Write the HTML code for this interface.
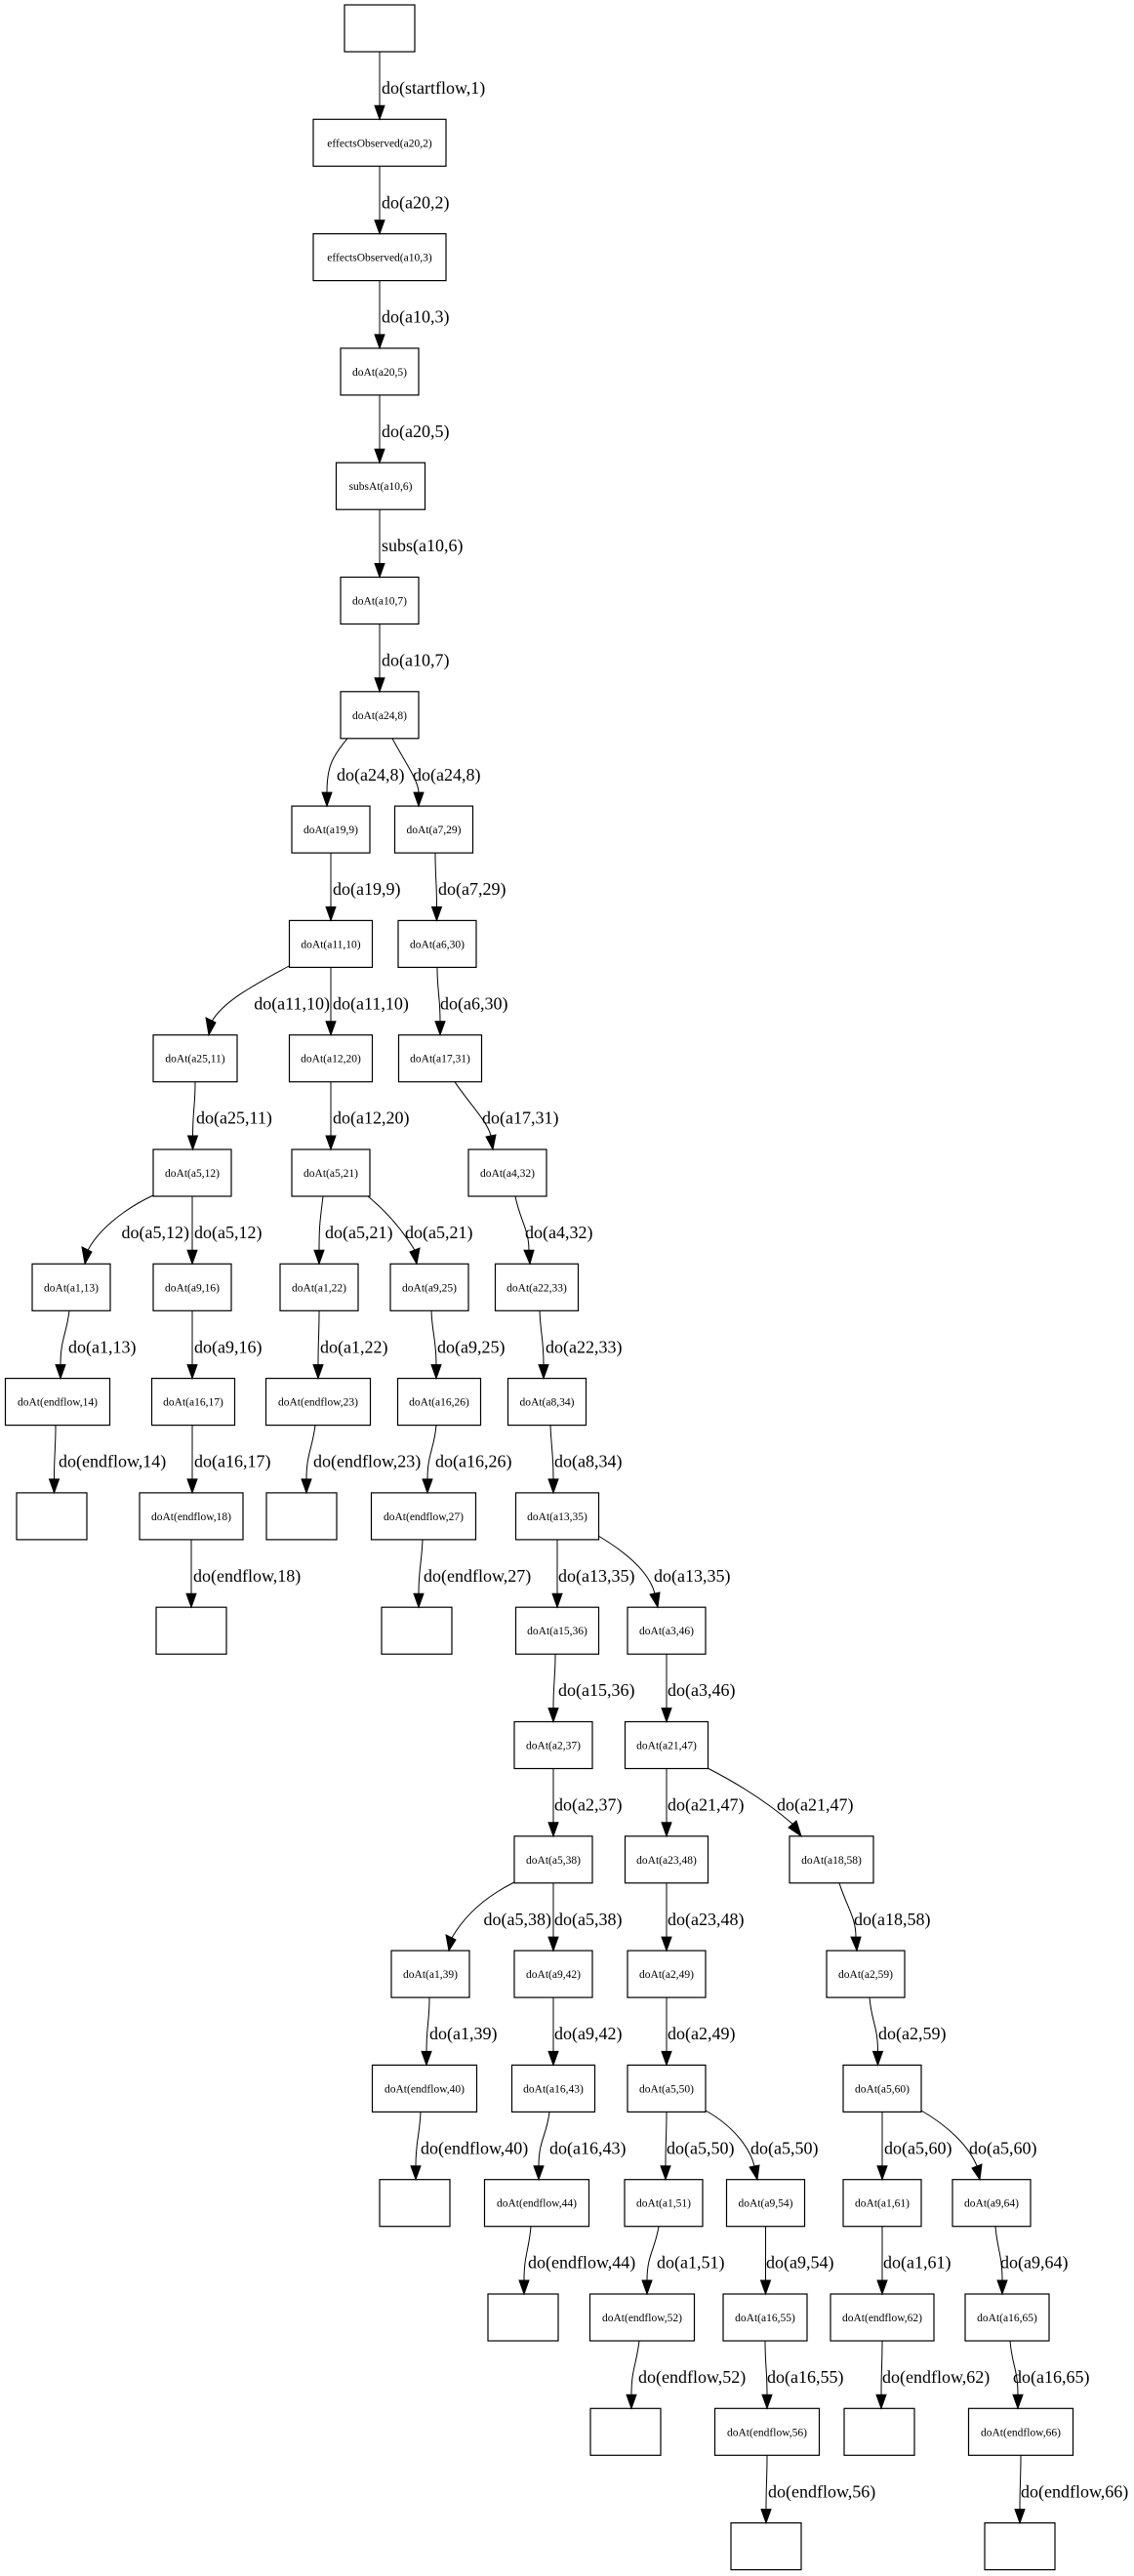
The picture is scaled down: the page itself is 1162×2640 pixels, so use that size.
<!DOCTYPE html>
<html><head><meta charset="utf-8"><style>
html,body{margin:0;padding:0;background:#fff;}
svg{display:block;}
.n rect{fill:none;stroke:#000;stroke-width:1.2;}
.n text{font-family:"Liberation Serif",serif;font-size:11.5px;text-anchor:middle;fill:#000;}
.e path{fill:none;stroke:#000;stroke-width:1;}
.e polygon{fill:#000;stroke:#000;}
.l{font-family:"Liberation Serif",serif;font-size:18px;fill:#000;}
</style></head><body>
<svg width="1162" height="2640" viewBox="0 0 1162 2640" xmlns="http://www.w3.org/2000/svg">
<g class="n">
<rect x="353" y="5" width="72" height="48"/>
<rect x="321" y="122.3" width="136" height="48"/><text x="389" y="150.3">effectsObserved(a20,2)</text>
<rect x="321" y="239.6" width="136" height="48"/><text x="389" y="267.6">effectsObserved(a10,3)</text>
<rect x="349" y="356.9" width="80" height="48"/><text x="389" y="384.9">doAt(a20,5)</text>
<rect x="344.5" y="474.2" width="91" height="48"/><text x="390" y="502.2">subsAt(a10,6)</text>
<rect x="349" y="591.5" width="80" height="48"/><text x="389" y="619.5">doAt(a10,7)</text>
<rect x="349" y="708.8" width="80" height="48"/><text x="389" y="736.8">doAt(a24,8)</text>
<rect x="299" y="826.1" width="80" height="48"/><text x="339" y="854.1">doAt(a19,9)</text>
<rect x="404.5" y="826.1" width="80" height="48"/><text x="444.5" y="854.1">doAt(a7,29)</text>
<rect x="296.5" y="943.4" width="85" height="48"/><text x="339" y="971.4">doAt(a11,10)</text>
<rect x="408" y="943.4" width="80" height="48"/><text x="448" y="971.4">doAt(a6,30)</text>
<rect x="157" y="1060.7" width="86" height="48"/><text x="200" y="1088.7">doAt(a25,11)</text>
<rect x="296.5" y="1060.7" width="85" height="48"/><text x="339" y="1088.7">doAt(a12,20)</text>
<rect x="408.5" y="1060.7" width="85" height="48"/><text x="451" y="1088.7">doAt(a17,31)</text>
<rect x="157" y="1178" width="80" height="48"/><text x="197" y="1206">doAt(a5,12)</text>
<rect x="299" y="1178" width="80" height="48"/><text x="339" y="1206">doAt(a5,21)</text>
<rect x="480" y="1178" width="80" height="48"/><text x="520" y="1206">doAt(a4,32)</text>
<rect x="33" y="1295.3" width="80" height="48"/><text x="73" y="1323.3">doAt(a1,13)</text>
<rect x="157" y="1295.3" width="80" height="48"/><text x="197" y="1323.3">doAt(a9,16)</text>
<rect x="287" y="1295.3" width="80" height="48"/><text x="327" y="1323.3">doAt(a1,22)</text>
<rect x="400" y="1295.3" width="80" height="48"/><text x="440" y="1323.3">doAt(a9,25)</text>
<rect x="507.5" y="1295.3" width="85" height="48"/><text x="550" y="1323.3">doAt(a22,33)</text>
<rect x="5.5" y="1412.6" width="107" height="48"/><text x="59" y="1440.6">doAt(endflow,14)</text>
<rect x="155.5" y="1412.6" width="85" height="48"/><text x="198" y="1440.6">doAt(a16,17)</text>
<rect x="272.5" y="1412.6" width="107" height="48"/><text x="326" y="1440.6">doAt(endflow,23)</text>
<rect x="407.5" y="1412.6" width="85" height="48"/><text x="450" y="1440.6">doAt(a16,26)</text>
<rect x="520.5" y="1412.6" width="80" height="48"/><text x="560.5" y="1440.6">doAt(a8,34)</text>
<rect x="17" y="1529.9" width="72" height="48"/>
<rect x="143" y="1529.9" width="106" height="48"/><text x="196" y="1557.9">doAt(endflow,18)</text>
<rect x="273" y="1529.9" width="72" height="48"/>
<rect x="380.5" y="1529.9" width="107" height="48"/><text x="434" y="1557.9">doAt(endflow,27)</text>
<rect x="528.5" y="1529.9" width="85" height="48"/><text x="571" y="1557.9">doAt(a13,35)</text>
<rect x="160" y="1647.2" width="72" height="48"/>
<rect x="391" y="1647.2" width="72" height="48"/>
<rect x="528.5" y="1647.2" width="85" height="48"/><text x="571" y="1675.2">doAt(a15,36)</text>
<rect x="643" y="1647.2" width="80" height="48"/><text x="683" y="1675.2">doAt(a3,46)</text>
<rect x="527" y="1764.5" width="80" height="48"/><text x="567" y="1792.5">doAt(a2,37)</text>
<rect x="640.5" y="1764.5" width="85" height="48"/><text x="683" y="1792.5">doAt(a21,47)</text>
<rect x="527" y="1881.8" width="80" height="48"/><text x="567" y="1909.8">doAt(a5,38)</text>
<rect x="640.5" y="1881.8" width="85" height="48"/><text x="683" y="1909.8">doAt(a23,48)</text>
<rect x="809" y="1881.8" width="86" height="48"/><text x="852" y="1909.8">doAt(a18,58)</text>
<rect x="401" y="1999.1" width="80" height="48"/><text x="441" y="2027.1">doAt(a1,39)</text>
<rect x="527" y="1999.1" width="80" height="48"/><text x="567" y="2027.1">doAt(a9,42)</text>
<rect x="643" y="1999.1" width="80" height="48"/><text x="683" y="2027.1">doAt(a2,49)</text>
<rect x="847" y="1999.1" width="80" height="48"/><text x="887" y="2027.1">doAt(a2,59)</text>
<rect x="381.5" y="2116.4" width="107" height="48"/><text x="435" y="2144.4">doAt(endflow,40)</text>
<rect x="524.5" y="2116.4" width="85" height="48"/><text x="567" y="2144.4">doAt(a16,43)</text>
<rect x="643" y="2116.4" width="80" height="48"/><text x="683" y="2144.4">doAt(a5,50)</text>
<rect x="864" y="2116.4" width="80" height="48"/><text x="904" y="2144.4">doAt(a5,60)</text>
<rect x="389" y="2233.7" width="72" height="48"/>
<rect x="496.5" y="2233.7" width="107" height="48"/><text x="550" y="2261.7">doAt(endflow,44)</text>
<rect x="640" y="2233.7" width="80" height="48"/><text x="680" y="2261.7">doAt(a1,51)</text>
<rect x="744.5" y="2233.7" width="80" height="48"/><text x="784.5" y="2261.7">doAt(a9,54)</text>
<rect x="864" y="2233.7" width="80" height="48"/><text x="904" y="2261.7">doAt(a1,61)</text>
<rect x="976" y="2233.7" width="80" height="48"/><text x="1016" y="2261.7">doAt(a9,64)</text>
<rect x="500" y="2351" width="72" height="48"/>
<rect x="604.5" y="2351" width="107" height="48"/><text x="658" y="2379">doAt(endflow,52)</text>
<rect x="741" y="2351" width="86" height="48"/><text x="784" y="2379">doAt(a16,55)</text>
<rect x="851" y="2351" width="106" height="48"/><text x="904" y="2379">doAt(endflow,62)</text>
<rect x="989" y="2351" width="86" height="48"/><text x="1032" y="2379">doAt(a16,65)</text>
<rect x="605" y="2468.3" width="72" height="48"/>
<rect x="732.5" y="2468.3" width="107" height="48"/><text x="786" y="2496.3">doAt(endflow,56)</text>
<rect x="865" y="2468.3" width="72" height="48"/>
<rect x="992.5" y="2468.3" width="107" height="48"/><text x="1046" y="2496.3">doAt(endflow,66)</text>
<rect x="749" y="2585.6" width="72" height="48"/>
<rect x="1009" y="2585.6" width="72" height="48"/>
</g>
<g class="e">
<path d="M389,53 C389,78 389,82.3 389,108.3"/><polygon points="384,108.3 394,108.3 389,122.3"/>
<path d="M389,170.3 C389,195 389,199.6 389,225.6"/><polygon points="384,225.6 394,225.6 389,239.6"/>
<path d="M389,287.6 C389,312 389,316.9 389,342.9"/><polygon points="384,342.9 394,342.9 389,356.9"/>
<path d="M389,404.9 C389,430 389,434.2 389,460.2"/><polygon points="384,460.2 394,460.2 389,474.2"/>
<path d="M389,522.2 C389,547 389,551.5 389,577.5"/><polygon points="384,577.5 394,577.5 389,591.5"/>
<path d="M389,639.5 C389,664 389,668.8 389,694.8"/><polygon points="384,694.8 394,694.8 389,708.8"/>
<path d="M356,756.8 C340,776 335,786.1 335,812.1"/><polygon points="330,812.1 340,812.1 335,826.1"/>
<path d="M402,756.8 C412,776 429,800 429,812.1"/><polygon points="424,812.1 434,812.1 429,826.1"/>
<path d="M339,874.1 C339,899 339,903.4 339,929.4"/><polygon points="334,929.4 344,929.4 339,943.4"/>
<path d="M446,874.1 C446,899 447.5,903.4 447.5,929.4"/><polygon points="442.5,929.4 452.5,929.4 447.5,943.4"/>
<path d="M297,989.5 C260,1010 230,1025 217,1046.7"/><polygon points="211,1043 221,1048 214,1060.7"/>
<path d="M339,991.4 C339,1016 339,1020.7 339,1046.7"/><polygon points="334,1046.7 344,1046.7 339,1060.7"/>
<path d="M448,991.4 C448,1016 451,1020.7 451,1046.7"/><polygon points="446,1046.7 456,1046.7 451,1060.7"/>
<path d="M200,1108.7 C200,1134 197.5,1138 197.5,1164"/><polygon points="192.5,1164 202.5,1164 197.5,1178"/>
<path d="M339,1108.7 C339,1134 339,1138 339,1164"/><polygon points="334,1164 344,1164 339,1178"/>
<path d="M466,1108.7 C480,1130 500,1150 503,1164"/><polygon points="498,1165 508,1163 505,1178"/>
<path d="M157,1225 C125,1240 100,1262 90,1281.3"/><polygon points="84,1278 94,1283 87,1295.3"/>
<path d="M197,1226 C197,1251 197,1255.3 197,1281.3"/><polygon points="192,1281.3 202,1281.3 197,1295.3"/>
<path d="M331,1226 C328,1251 327,1255.3 327,1281.3"/><polygon points="322,1281.3 332,1281.3 327,1295.3"/>
<path d="M377,1226 C400,1245 415,1265 425,1281.3"/><polygon points="420,1283 430,1279 427,1295.3"/>
<path d="M528,1226 C533,1251 542,1260 542,1281.3"/><polygon points="537,1281.3 547,1281.3 543,1295.3"/>
<path d="M71,1343.3 C68,1368 62,1372.6 62,1398.6"/><polygon points="57,1398.6 67,1398.6 62,1412.6"/>
<path d="M197,1343.3 C197,1368 197,1372.6 197,1398.6"/><polygon points="192,1398.6 202,1398.6 197,1412.6"/>
<path d="M327,1343.3 C327,1368 326,1372.6 326,1398.6"/><polygon points="321,1398.6 331,1398.6 326,1412.6"/>
<path d="M442,1343.3 C443,1368 447,1372.6 447,1398.6"/><polygon points="442,1398.6 452,1398.6 447,1412.6"/>
<path d="M553,1343.3 C554,1368 557,1372.6 557,1398.6"/><polygon points="552,1398.6 562,1398.6 557,1412.6"/>
<path d="M57,1460.6 C57,1485 55.5,1489.9 55.5,1515.9"/><polygon points="50.5,1515.9 60.5,1515.9 55.5,1529.9"/>
<path d="M197,1460.6 C197,1485 197,1489.9 197,1515.9"/><polygon points="192,1515.9 202,1515.9 197,1529.9"/>
<path d="M323,1460.6 C320,1485 314,1489.9 314,1515.9"/><polygon points="309,1515.9 319,1515.9 314,1529.9"/>
<path d="M447,1460.6 C445,1485 438,1489.9 438,1515.9"/><polygon points="433,1515.9 443,1515.9 438,1529.9"/>
<path d="M564,1460.6 C565,1485 567,1489.9 567,1515.9"/><polygon points="562,1515.9 572,1515.9 567,1529.9"/>
<path d="M196,1577.9 C196,1603 196,1607.2 196,1633.2"/><polygon points="191,1633.2 201,1633.2 196,1647.2"/>
<path d="M433,1577.9 C432,1603 429,1607.2 429,1633.2"/><polygon points="424,1633.2 434,1633.2 429,1647.2"/>
<path d="M571,1577.9 C571,1603 571,1607.2 571,1633.2"/><polygon points="566,1633.2 576,1633.2 571,1647.2"/>
<path d="M613,1574 C640,1590 665,1610 671,1633.2"/><polygon points="666,1634 676,1632 674,1647.2"/>
<path d="M569,1695.2 C569,1720 567,1724.5 567,1750.5"/><polygon points="562,1750.5 572,1750.5 567,1764.5"/>
<path d="M683,1695.2 C683,1720 683,1724.5 683,1750.5"/><polygon points="678,1750.5 688,1750.5 683,1764.5"/>
<path d="M567,1812.5 C567,1837 567,1841.8 567,1867.8"/><polygon points="562,1867.8 572,1867.8 567,1881.8"/>
<path d="M683,1812.5 C683,1837 683,1841.8 683,1867.8"/><polygon points="678,1867.8 688,1867.8 683,1881.8"/>
<path d="M725,1812 C760,1830 790,1850 813,1870"/><polygon points="808,1873 816,1866 821,1881.8"/>
<path d="M527,1929 C495,1945 475,1965 463,1986"/><polygon points="457,1983 467,1988 460,1999.1"/>
<path d="M567,1929.8 C567,1955 567,1959.1 567,1985.1"/><polygon points="562,1985.1 572,1985.1 567,1999.1"/>
<path d="M683,1929.8 C683,1955 683,1959.1 683,1985.1"/><polygon points="678,1985.1 688,1985.1 683,1999.1"/>
<path d="M860,1929.8 C868,1955 877,1965 877,1985.1"/><polygon points="872,1985.1 882,1985.1 878,1999.1"/>
<path d="M440,2047.1 C440,2072 437,2076.4 437,2102.4"/><polygon points="432,2102.4 442,2102.4 437,2116.4"/>
<path d="M567,2047.1 C567,2072 567,2076.4 567,2102.4"/><polygon points="562,2102.4 572,2102.4 567,2116.4"/>
<path d="M683,2047.1 C683,2072 683,2076.4 683,2102.4"/><polygon points="678,2102.4 688,2102.4 683,2116.4"/>
<path d="M891,2047.1 C893,2072 899.5,2076.4 899.5,2102.4"/><polygon points="894.5,2102.4 904.5,2102.4 899.5,2116.4"/>
<path d="M431,2164.4 C430,2189 426,2193.7 426,2219.7"/><polygon points="421,2219.7 431,2219.7 426,2233.7"/>
<path d="M563,2164.4 C560,2189 552,2193.7 552,2219.7"/><polygon points="547,2219.7 557,2219.7 552,2233.7"/>
<path d="M683,2164.4 C683,2189 682,2193.7 682,2219.7"/><polygon points="677,2219.7 687,2219.7 682,2233.7"/>
<path d="M723,2163 C750,2178 768,2200 773,2219.7"/><polygon points="768,2221 778,2219 776,2233.7"/>
<path d="M904,2164.4 C904,2189 904,2193.7 904,2219.7"/><polygon points="899,2219.7 909,2219.7 904,2233.7"/>
<path d="M944,2163 C970,2178 992,2198 1001,2219.7"/><polygon points="996,2222 1006,2218 1004,2233.7"/>
<path d="M544,2281.7 C542,2306 537,2311 537,2337"/><polygon points="532,2337 542,2337 537,2351"/>
<path d="M675,2281.7 C671,2306 663,2311 663,2337"/><polygon points="658,2337 668,2337 663,2351"/>
<path d="M784.5,2281.7 C784.5,2306 784.5,2311 784.5,2337"/><polygon points="779.5,2337 789.5,2337 784.5,2351"/>
<path d="M904,2281.7 C904,2306 904,2311 904,2337"/><polygon points="899,2337 909,2337 904,2351"/>
<path d="M1020,2281.7 C1022,2306 1027,2311 1027,2337"/><polygon points="1022,2337 1032,2337 1027,2351"/>
<path d="M655,2399 C652,2424 647,2428.3 647,2454.3"/><polygon points="642,2454.3 652,2454.3 647,2468.3"/>
<path d="M784,2399 C784,2424 786,2428.3 786,2454.3"/><polygon points="781,2454.3 791,2454.3 786,2468.3"/>
<path d="M904,2399 C904,2424 903,2428.3 903,2454.3"/><polygon points="898,2454.3 908,2454.3 903,2468.3"/>
<path d="M1035,2399 C1037,2424 1043,2428.3 1043,2454.3"/><polygon points="1038,2454.3 1048,2454.3 1043,2468.3"/>
<path d="M786,2516.3 C786,2541 785,2545.6 785,2571.6"/><polygon points="780,2571.6 790,2571.6 785,2585.6"/>
<path d="M1046,2516.3 C1046,2541 1045,2545.6 1045,2571.6"/><polygon points="1040,2571.6 1050,2571.6 1045,2585.6"/>
</g>
<g class="l">
<text x="391" y="96">do(startflow,1)</text>
<text x="391" y="213.3">do(a20,2)</text>
<text x="391" y="330.6">do(a10,3)</text>
<text x="391" y="447.9">do(a20,5)</text>
<text x="391" y="565.2">subs(a10,6)</text>
<text x="391" y="682.5">do(a10,7)</text>
<text x="345" y="799.8">do(a24,8)</text>
<text x="423" y="799.8">do(a24,8)</text>
<text x="341" y="917.1">do(a19,9)</text>
<text x="449" y="917.1">do(a7,29)</text>
<text x="338" y="1034.4" text-anchor="end">do(a11,10)</text>
<text x="341" y="1034.4">do(a11,10)</text>
<text x="451" y="1034.4">do(a6,30)</text>
<text x="201" y="1151.7">do(a25,11)</text>
<text x="341" y="1151.7">do(a12,20)</text>
<text x="494" y="1151.7">do(a17,31)</text>
<text x="194" y="1269" text-anchor="end">do(a5,12)</text>
<text x="199" y="1269">do(a5,12)</text>
<text x="333" y="1269">do(a5,21)</text>
<text x="415" y="1269">do(a5,21)</text>
<text x="538" y="1269">do(a4,32)</text>
<text x="70" y="1386.3">do(a1,13)</text>
<text x="199" y="1386.3">do(a9,16)</text>
<text x="328" y="1386.3">do(a1,22)</text>
<text x="448" y="1386.3">do(a9,25)</text>
<text x="559" y="1386.3">do(a22,33)</text>
<text x="60" y="1503.6">do(endflow,14)</text>
<text x="199" y="1503.6">do(a16,17)</text>
<text x="321" y="1503.6">do(endflow,23)</text>
<text x="446" y="1503.6">do(a16,26)</text>
<text x="568" y="1503.6">do(a8,34)</text>
<text x="198" y="1620.9">do(endflow,18)</text>
<text x="434" y="1620.9">do(endflow,27)</text>
<text x="572" y="1620.9">do(a13,35)</text>
<text x="670" y="1620.9">do(a13,35)</text>
<text x="572" y="1738.2">do(a15,36)</text>
<text x="684" y="1738.2">do(a3,46)</text>
<text x="568" y="1855.5">do(a2,37)</text>
<text x="684" y="1855.5">do(a21,47)</text>
<text x="796" y="1855.5">do(a21,47)</text>
<text x="565" y="1972.8" text-anchor="end">do(a5,38)</text>
<text x="568" y="1972.8">do(a5,38)</text>
<text x="684" y="1972.8">do(a23,48)</text>
<text x="875" y="1972.8">do(a18,58)</text>
<text x="440" y="2090.1">do(a1,39)</text>
<text x="568" y="2090.1">do(a9,42)</text>
<text x="684" y="2090.1">do(a2,49)</text>
<text x="900" y="2090.1">do(a2,59)</text>
<text x="431" y="2207.4">do(endflow,40)</text>
<text x="563" y="2207.4">do(a16,43)</text>
<text x="683" y="2207.4">do(a5,50)</text>
<text x="769" y="2207.4">do(a5,50)</text>
<text x="906" y="2207.4">do(a5,60)</text>
<text x="993" y="2207.4">do(a5,60)</text>
<text x="541" y="2324.7">do(endflow,44)</text>
<text x="673" y="2324.7">do(a1,51)</text>
<text x="785" y="2324.7">do(a9,54)</text>
<text x="905" y="2324.7">do(a1,61)</text>
<text x="1025" y="2324.7">do(a9,64)</text>
<text x="654" y="2442">do(endflow,52)</text>
<text x="786" y="2442">do(a16,55)</text>
<text x="904" y="2442">do(endflow,62)</text>
<text x="1038" y="2442">do(a16,65)</text>
<text x="787" y="2559.3">do(endflow,56)</text>
<text x="1046" y="2559.3">do(endflow,66)</text>
</g>
</svg>
</body></html>
